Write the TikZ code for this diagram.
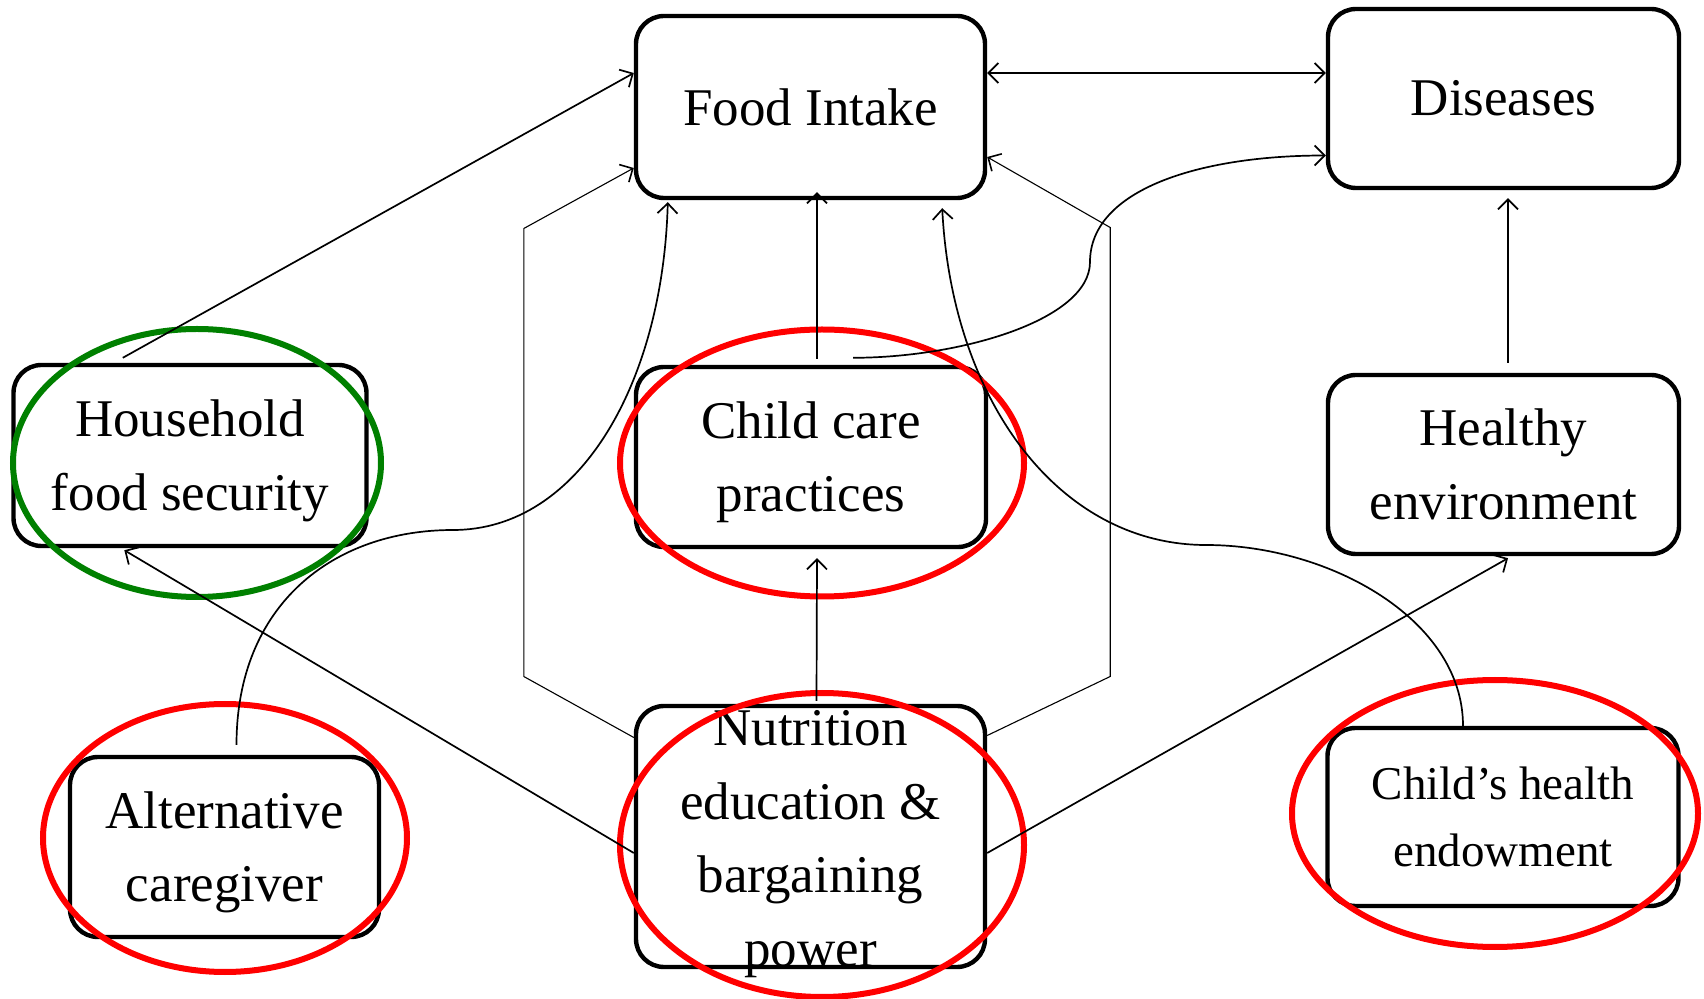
\documentclass[tikz,border=0pt]{standalone}
\usepackage{fontspec}
\setmainfont{Liberation Serif}
\usetikzlibrary{arrows.meta,calc}
\begin{document}
\begin{tikzpicture}[x=0.5pt,y=-0.5pt,
  box/.style={draw=black, line width=2.2pt, rounded corners=14pt, inner sep=0pt,
    align=center, font=\fontsize{26.5}{36.7}\selectfont,
    minimum width=175pt, minimum height=90pt},
  smalltext/.style={font=\fontsize{23.5}{33.5}\selectfont},
  bigtext/.style={inner sep=0pt, align=center, font=\fontsize{26.5}{36.7}\selectfont},
  redring/.style={draw={rgb,255:red,255;green,0;blue,0}, line width=3pt},
  greenring/.style={draw={rgb,255:red,0;green,128;blue,0}, line width=3pt},
  arr/.style={line width=0.85pt, -{Straight Barb[length=5pt,width=10pt,line width=0.85pt]}},
  biarr/.style={line width=0.85pt, {Straight Barb[length=5pt,width=10pt,line width=0.85pt]}-{Straight Barb[length=5pt,width=10pt,line width=0.85pt]}},
  hexarr/.style={line width=0.55pt, -{Straight Barb[length=5pt,width=10pt,line width=0.8pt]}}
]
\useasboundingbox (0,0) rectangle (1704,999);

% boxes
\node[box, minimum width=174.5pt, minimum height=91pt] (FI) at (810.5,107) {Food Intake};
\node[box, minimum width=175.5pt, minimum height=89.5pt] (DI) at (1503.5,98.5) {Diseases};
\node[box, minimum width=176.5pt, minimum height=90.5pt] (HF) at (190,455.5) {Household\\food securit\smash{y}};
\node[box, minimum width=175pt, minimum height=90pt] (CC) at (811,457) {Child care\\\smash{p}ractices};
\node[box, minimum width=175.5pt, minimum height=89.5pt] (HE) at (1503.5,464.5) {Healthy\\environment};
\node[box, minimum width=154.5pt, minimum height=90pt] (AC) at (224.5,847) {Alternative\\care\smash{g}iver};
\node[box, minimum width=174.5pt, minimum height=130.5pt] (NE) at (810.5,836.5) {};
\node[bigtext] (NEtext) at (810.5,844) {Nutrition\\education \&\\bargaining\\power};
\node[box, smalltext, minimum width=175.5pt, minimum height=89pt] (CH) at (1503,817) {Child’s health\\endowment};

% highlight rings
\draw[greenring] (197,463) ellipse [x radius=92pt, y radius=67pt];
\draw[redring] (822,463) ellipse [x radius=101pt, y radius=66.75pt];
\draw[redring] (822,845) ellipse [x radius=101pt, y radius=76pt];
\draw[redring] (225,838) ellipse [x radius=91pt, y radius=67pt];
\draw[redring] (1495,813.5) ellipse [x radius=101.5pt, y radius=66.75pt];

% bend points
\coordinate (m1) at (453,530);
\coordinate (m2) at (1206,545);
\coordinate (m3) at (1090,262);

% connectors
\draw[biarr] ($(FI.east)+(0,-34)$) -- ($(DI.west |- FI.east)+(0,-34)$);
\draw[arr] ($(HF.north west)+(111.5,-5)$) -- ($(FI.west)+(0,-34)$);
\draw[hexarr] ($(NE.west)+(0,-99)$) -- ++(-110,-61) -- ++(0,-448) -- ($(FI.west)+(0,61)$);
\draw[hexarr] ($(NE.east)+(0,-101)$) -- ++(123,-59) -- ++(0,-449) -- ($(FI.east)+(0,50)$);
\draw[arr] ($(CC.north)+(6,-6)$) -- ($(CC.north |- FI.south)+(6,-8)$);
\draw[arr] ($(NE.north)+(6,-3)$) -- ($(CC.south)+(6,9)$);
\draw[arr] ($(AC.north)+(12,-10)$) .. controls +(0,-140) and +(-120,0) .. (m1)
  .. controls +(127,0) and +(-5,180) .. ($(FI.south west)+(34,2)$);
\draw[arr] ($(CH.north)+(-40,0)$) .. controls +(0,-106) and +(124,0) .. (m2)
  .. controls +(-146,0) and +(10,194) .. ($(FI.south east)+(-45,8)$);
\draw[arr] ($(CC.north)+(42,-7)$) .. controls +(107,0) and +(0,58) .. (m3)
  .. controls +(0,-72) and +(-127,0) .. ($(DI.west)+(0,57)$);
\draw[arr] ($(NE.west)+(0,16.5)$) -- ($(HF.south west)+(113,2)$);
\draw[arr] ($(NE.east)+(0,16.5)$) -- ($(HE.south)+(4.5,2)$);
\draw[arr] ($(HE.north)+(4.5,-10)$) -- ($(DI.south)+(4.5,8)$);
\end{tikzpicture}
\end{document}
